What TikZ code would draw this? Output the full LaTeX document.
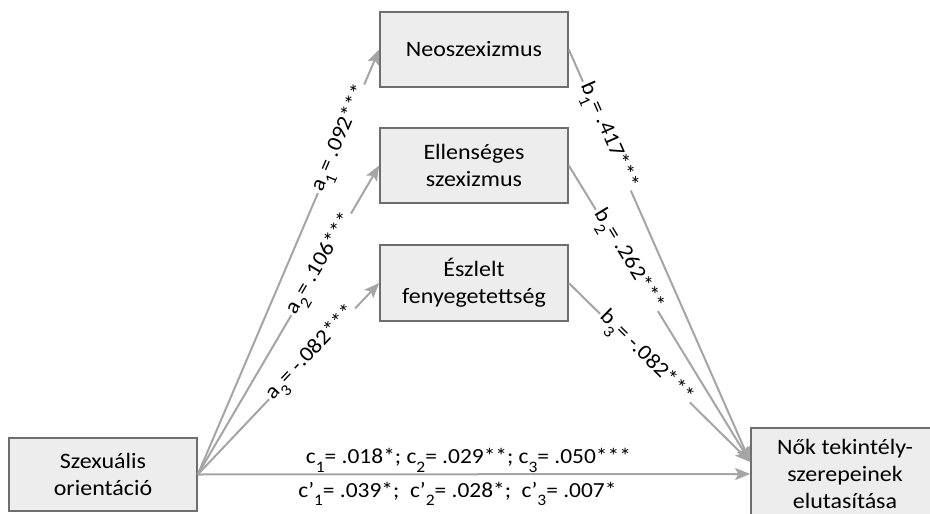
\documentclass[tikz,border=0pt]{standalone}
\usepackage{fontspec}
\setmainfont{Carlito}[FakeStretch=1.09]
\usetikzlibrary{arrows.meta,calc}
\definecolor{boxfill}{HTML}{EDEDED}
\definecolor{boxdraw}{HTML}{6E6E6E}
\definecolor{arr}{HTML}{A5A5A5}
\newcommand\sbs[1]{\raisebox{-0.8ex}{\fontsize{16}{16}\selectfont #1}}
\begin{document}
\begin{tikzpicture}[x=1pt,y=-1pt,
  box/.style={draw=boxdraw,fill=boxfill,line width=1.6pt,minimum width=188pt,align=center,font=\fontsize{22}{27}\selectfont,inner sep=0pt},
  conn/.style={draw=arr,line width=2pt,-{Stealth[length=15pt,width=12pt,inset=3pt]}},
  lab/.style={font=\fontsize{21.5}{24}\selectfont,fill=white,inner sep=2pt,sloped},
  clab/.style={font=\fontsize{21.5}{24}\selectfont,inner sep=2pt}]
\clip (0,0) rectangle (930,514);
\useasboundingbox (0,0) rectangle (930,514);
\node[box,minimum height=75pt] (neo) at (474,49.5) {Neoszexizmus};
\node[box,minimum height=75pt] (ell) at (474,165.5) {Ellenséges\\szexizmus};
\node[box,minimum height=76pt] (esz) at (474,283) {Észlelt\\fenyegetettség};
\node[box,minimum height=73pt] (sz) at (103,474.5) {Szexuális\\orientáció};
\node[box,minimum height=92pt] (nok) at (845,474) {Nők tekintély-\\szerepeinek\\elutasítása};
\draw[conn] (sz.east) -- (neo.west) node[lab,pos=0.79] {a\sbs{1}= .092***};
\draw[conn] (sz.east) -- (ell.west) node[lab,pos=0.68] {a\sbs{2}= .106***};
\draw[conn] (sz.east) -- (esz.west) node[lab,pos=0.63] {a\sbs{3}= -.082***};
\draw[conn] (neo.east) -- ([yshift=12pt]nok.west) node[lab,pos=0.21] {b\sbs{1}= .417***};
\draw[conn] (ell.east) -- ([yshift=12pt]nok.west) node[lab,pos=0.32] {b\sbs{2}= .262***};
\draw[conn] (esz.east) -- ([yshift=12pt]nok.west) node[lab,pos=0.42] {b\sbs{3}= -.082***};
\draw[conn] (sz.east) -- (nok.west)
  node[clab,pos=0.49,above=-1pt] {c\sbs{1}= .018*; c\sbs{2}= .029**; c\sbs{3}= .050***}
  node[clab,pos=0.47,below=5pt] {c’\sbs{1}= .039*;\ \ c’\sbs{2}= .028*;\ \ c’\sbs{3}= .007*};
\end{tikzpicture}
\end{document}
